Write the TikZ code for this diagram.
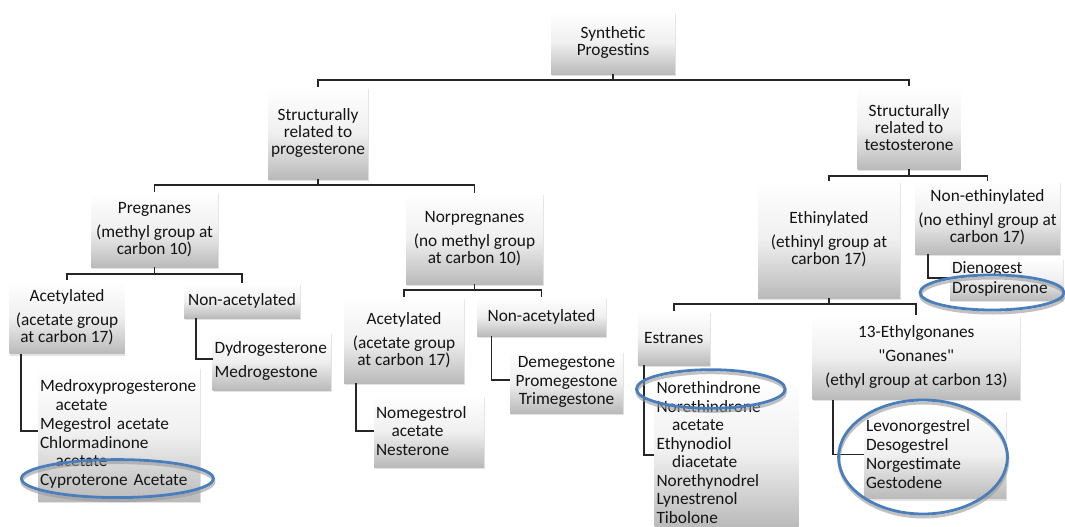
\documentclass[tikz,border=0pt]{standalone}
\usepackage{fontspec}
\setmainfont{Carlito}[Ligatures=TeXOff]
\usetikzlibrary{shadows,calc}
\definecolor{hlblue}{RGB}{74,126,187}
\definecolor{txt}{RGB}{20,20,20}
\begin{document}
\begin{tikzpicture}[x=1pt,y=-1pt,
  box/.style={inner sep=0pt, top color=white, bottom color=black!27, middle color=black!6,
    drop shadow={shadow xshift=0.8pt, shadow yshift=-2pt, opacity=0.22},
    text=txt},
  hdr/.style={box, align=center, font=\fontsize{17.3}{17}\selectfont},
  lst/.style={box, align=left, inner xsep=2pt, font=\fontsize{17.3}{18.9}\selectfont},
  clst/.style={box, align=center, font=\fontsize{17.3}{18.8}\selectfont},
  conn/.style={draw=black!85, line width=1.7pt},
  hl/.style={draw=hlblue, line width=2.8pt},
  hlsh/.style={draw=black!40, line width=3pt, opacity=0.6},
]
\useasboundingbox[fill=white] (0,0) rectangle (1065,527);

% level 0/1
\node[hdr, minimum width=124pt, minimum height=63pt] (root) at (613,42.5) {Synthetic\\Progestins};
\node[hdr, minimum width=100pt, minimum height=92pt] (prog) at (318,133) {Structurally\\related to\\progesterone};
\node[hdr, minimum width=103pt, minimum height=83pt] (test) at (909,127.5) {Structurally\\related to\\testosterone};

% level 2
\node[hdr, minimum width=127pt, minimum height=75pt] (preg) at (154.5,229.5) {Pregnanes\\[7pt](methyl group at\\carbon 10)};
\node[hdr, minimum width=137pt, minimum height=91pt] (norpreg) at (474.5,238.5) {Norpregnanes\\[7pt](no methyl group\\at carbon 10)};
\node[hdr, minimum width=142pt, minimum height=117pt] (ethinyl) at (829,239.5) {Ethinylated\\[7pt](ethinyl group at\\carbon 17)};
\node[hdr, minimum width=145pt, minimum height=73pt] (noneth) at (987.5,217.5) {Non-ethinylated\\[7pt](no ethinyl group at\\carbon 17)};

% level 3
\node[hdr, minimum width=115pt, minimum height=73pt] (acet1) at (67,317) {Acetylated\\[7pt](acetate group\\at carbon 17)};
\node[hdr, minimum width=116pt, minimum height=34.6pt] (nonacet1) at (242,300.7) {Non-acetylated};
\node[hdr, minimum width=120pt, minimum height=86pt] (acet2) at (404,340) {Acetylated\\[7pt](acetate group\\at carbon 17)};
\node[hdr, minimum width=129pt, minimum height=39pt] (nonacet2) at (541.5,316.5) {Non-acetylated};
\node[hdr, minimum width=72pt, minimum height=54pt] (estranes) at (673.8,338) {Estranes};
\node[hdr, minimum width=207.5pt, minimum height=84.6pt] (gonanes) at (916.3,357) {13-Ethylgonanes\\[7pt]"Gonanes"\\[7pt](ethyl group at carbon 13)};

% lists
\node[lst, text width=158pt, minimum height=134pt] (list1) at (119,434) {Medroxyprogesterone\\\hspace*{15.5pt}acetate\\Megestrol acetate\\Chlormadinone\\\hspace*{15.5pt}acetate\\Cyproterone Acetate};
\node[lst, text width=114pt, minimum height=58.4pt] (dydro) at (271.7,360.8) {Dydrogesterone\\[5pt]Medrogestone};
\node[lst, text width=106pt, minimum height=72pt] (nomeg) at (429,431) {Nomegestrol\\\hspace*{15.5pt}acetate\\Nesterone};
\node[clst, minimum width=113pt, minimum height=62pt] (demeg) at (566.5,382) {Demegestone\\Promegestone\\Trimegestone};
\node[lst, text width=140pt, minimum height=149pt, font=\fontsize{17.3}{18.5}\selectfont] (estlist) at (726.5,452.5) {Norethindrone\\Norethindrone\\\hspace*{15.5pt}acetate\\Ethynodiol\\\hspace*{15.5pt}diacetate\\Norethynodrel\\Lynestrenol\\Tibolone};
\node[lst, text width=138pt, minimum height=89pt] (levo) at (935,454.4) {Levonorgestrel\\Desogestrel\\Norgestimate\\Gestodene};
\node[lst, text width=109pt, minimum height=42pt, font=\fontsize{17.3}{20.7}\selectfont] (dieno) at (1006.5,279) {Dienogest\\Drospirenone};

% tree connectors
\draw[conn] (prog.north) |- ($(root.south)+(0,5.5)$) -| (test.north);
\draw[conn] (root.south) -- ++(0,5.5);
\draw[conn] (preg.north) |- ($(prog.south)+(0,6)$) -| (norpreg.north);
\draw[conn] (prog.south) -- ++(0,6);
\draw[conn] (ethinyl.north) |- ($(test.south)+(0,7)$) -| (noneth.north);
\draw[conn] (test.south) -- ++(0,7);
\draw[conn] (acet1.north) |- ($(preg.south)+(0,7)$) -| (nonacet1.north);
\draw[conn] (preg.south) -- ++(0,7);
\draw[conn] (acet2.north) |- ($(norpreg.south)+(0,6)$) -| (nonacet2.north);
\draw[conn] (norpreg.south) -- ++(0,6);
\draw[conn] (estranes.north) |- ($(ethinyl.south)+(0,6)$) -| (gonanes.north);
\draw[conn] (ethinyl.south) -- ++(0,6);

% elbows to lists
\draw[conn] ([xshift=11.7pt]acet1.south west) |- ([yshift=3pt]list1.west);
\draw[conn] ([xshift=12.3pt]nonacet1.south west) |- ([yshift=1.5pt]dydro.west);
\draw[conn] ([xshift=12.4pt]acet2.south west) |- (nomeg.west);
\draw[conn] ([xshift=14.7pt]nonacet2.south west) |- ([yshift=2pt]demeg.west);
\draw[conn] ([xshift=6.5pt]estranes.south west) |- ([yshift=-2.5pt]estlist.west);
\draw[conn] ([xshift=20.5pt]gonanes.south west) |- (levo.west);
\draw[conn] ([xshift=13.5pt]noneth.south west) |- ([yshift=1pt]dieno.west);

% highlight ellipses
\foreach \cx/\cy/\rx/\ry in {117.4/478.6/96/19, 710.8/389/74.4/19.3, 992/292.5/72/17.5, 923/457/84.4/57}{
  \draw[hlsh] (\cx+0.5,\cy+3) ellipse [x radius=\rx, y radius=\ry];
  \draw[hl] (\cx,\cy) ellipse [x radius=\rx, y radius=\ry];
}
\end{tikzpicture}
\end{document}
